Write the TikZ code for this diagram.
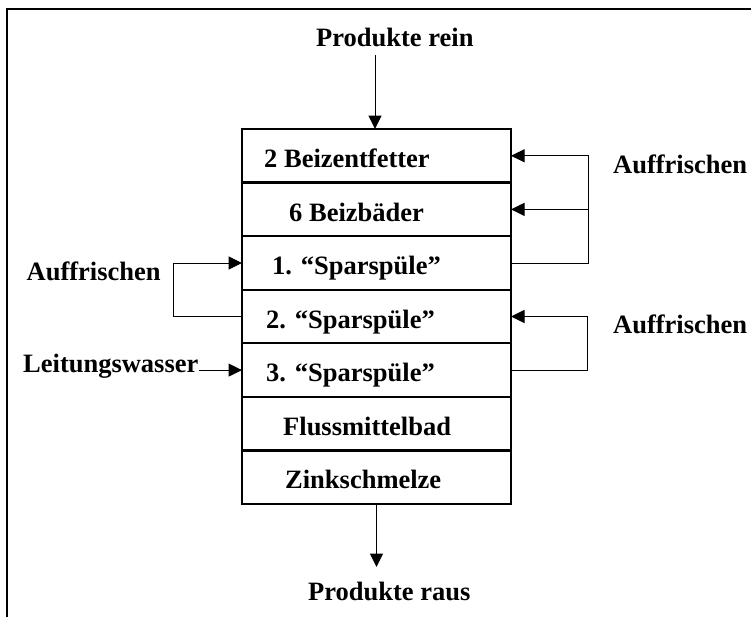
\documentclass[tikz,border=0pt]{standalone}
\usepackage{fontspec}
\setmainfont{Liberation Serif}
\usetikzlibrary{arrows.meta}
\begin{document}
\begin{tikzpicture}[x=1bp,y=-1bp,
  lab/.style={font=\fontsize{26.5bp}{30bp}\selectfont\bfseries, inner sep=0pt, anchor=base west},
  row/.style={draw, line width=1.2bp, minimum width=269bp, minimum height=53.57bp, inner sep=0pt, outer sep=0pt},
  sep/.style={line width=2.4bp},
  conn/.style={line width=1bp},
  arr/.style={conn, -{Triangle[length=13.5bp,width=13bp]}},
  frame/.style={line width=2.5bp}]
  \useasboundingbox (0,0) rectangle (751,617);

  % open frame (left and top edges)
  \draw[frame] (7,617) -- (7,9) -- (751,9);

  % process stack
  \node[row] (r1) at (376.5,155.8) {};
  \node[row] (r2) at (376.5,209.4) {};
  \node[row] (r3) at (376.5,263.0) {};
  \node[row] (r4) at (376.5,316.5) {};
  \node[row] (r5) at (376.5,370.1) {};
  \node[row] (r6) at (376.5,423.6) {};
  \node[row] (r7) at (376.5,477.2) {};
  \foreach \a in {r1,r2,r3,r4,r5,r6}
    \draw[sep] (\a.south west) -- (\a.south east);

  % stage labels
  \node[lab] (t1) at (264,167.5) {2 Beizentfetter};
  \node[lab] (t2) at (289,221.1) {6 Beizbäder};
  \node[lab] (t3) at (272,274.6) {1. “Sparspüle”};
  \node[lab] (t4) at (266,328.2) {2. “Sparspüle”};
  \node[lab] (t5) at (266,381.8) {3. “Sparspüle”};
  \node[lab] (t6) at (283,435.3) {Flussmittelbad};
  \node[lab] (t7) at (285,488.9) {Zinkschmelze};

  % outer labels
  \node[lab] (pin) at (316,46.7) {Produkte rein};
  \node[lab] (pout) at (308,600) {Produkte raus};
  \node[lab] (auf1) at (613,173.3) {Auffrischen};
  \node[lab] (auf2) at (613,333.3) {Auffrischen};
  \node[lab] (auf3) at (26.5,280) {Auffrischen};
  \node[lab] (lw) at (23,372) {Leitungswasser};

  % helper coordinates for loops and free ends
  \coordinate (rx1) at (588,0);
  \coordinate (rx2) at (587.5,0);
  \coordinate (lx) at (173,0);
  \coordinate (tin) at (375,55);
  \coordinate (tout) at (376,567);

  % product flow
  \draw[arr] (tin) -- (tin |- r1.north);
  \draw[arr] (r7.south) -- (r7.south |- tout);

  % refresh loops
  \draw[arr] (r3.east) -| (r1.east -| rx1) -- (r1.east);
  \draw[arr] (r2.east -| rx1) -- (r2.east);
  \draw[arr] (r5.east) -| (r4.east -| rx2) -- (r4.east);
  \draw[arr] (r4.west) -| (r3.west -| lx) -- (r3.west);

  % tap water inlet
  \draw[arr] (lw.east |- r5.west) -- (r5.west);
\end{tikzpicture}
\end{document}
